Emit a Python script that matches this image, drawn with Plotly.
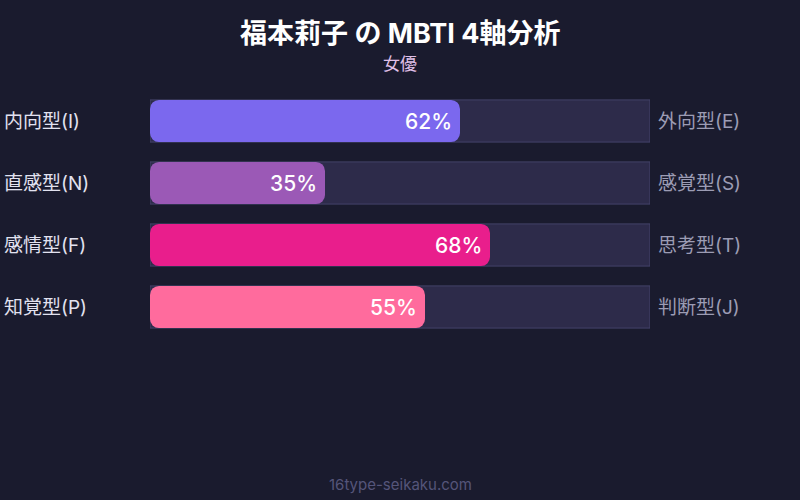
import plotly.graph_objects as go

# データ
left_labels = ["内向型(I)", "直感型(N)", "感情型(F)", "知覚型(P)"]
right_labels = ["外向型(E)", "感覚型(S)", "思考型(T)", "判断型(J)"]
values = [62, 35, 68, 55]
colors = ["#7b68ee", "#9b59b6", "#e91e8c", "#ff6b9d"]
track = [100, 100, 100, 100]
start = [0, 0, 0, 0]

font_jp = "Inter, Noto Sans CJK JP"
pos = list(range(len(values)))
bar_w = 0.68

fig = go.Figure()

# 背景のトラック
fig.add_trace(go.Bar(
    x=track, y=pos, orientation="h", width=bar_w, offset=-bar_w / 2,
    marker=dict(color="#2d2b4a", line=dict(color="#44426a", width=1)),
    hoverinfo="skip", showlegend=False,
))

# 値のバー (base を指定すると両端が丸くなる)
fig.add_trace(go.Bar(
    x=values, base=start, y=pos, orientation="h",
    width=bar_w, offset=-bar_w / 2,
    marker=dict(color=colors, line=dict(width=0), cornerradius=9),
    hoverinfo="skip", showlegend=False,
))

annotations = []
for i in pos:
    annotations.append(dict(
        x=values[i], y=i, xref="x", yref="y", text="{}%".format(values[i]),
        xanchor="right", yanchor="middle", xshift=-6, showarrow=False,
        font=dict(size=21, color="white", family=font_jp, weight=500),
    ))
    annotations.append(dict(
        x=-0.296, y=i, xref="paper", yref="y", text=left_labels[i],
        xanchor="left", yanchor="middle", showarrow=False,
        font=dict(size=19, color="#e2e2f0", family=font_jp),
    ))
    annotations.append(dict(
        x=1.012, y=i, xref="paper", yref="y", text=right_labels[i],
        xanchor="left", yanchor="middle", showarrow=False,
        font=dict(size=19, color="#9c9cb4", family=font_jp),
    ))

# タイトル類 (y はピクセル位置、下で paper 座標に変換)
plot_top, plot_bottom = 90, 338
header = [
    ("福本莉子 の MBTI 4軸分析", 34, 27, "white", 700),
    ("女優", 64, 17, "#e0c0e8", 400),
    ("16type-seikaku.com", 484, 15, "#55557a", 400),
]
for text, py, size, color, weight in header:
    annotations.append(dict(
        x=0.5, y=(plot_bottom - py) / (plot_bottom - plot_top), xref="paper", yref="paper",
        text=text, xanchor="center", yanchor="middle", showarrow=False,
        font=dict(size=size, color=color, family=font_jp, weight=weight),
    ))

fig.update_layout(
    width=800, height=500,
    margin=dict(l=150, r=150, t=plot_top, b=500 - plot_bottom),
    paper_bgcolor="#1a1b2e", plot_bgcolor="#1a1b2e",
    barmode="group",
    xaxis=dict(range=[0, 100], visible=False, fixedrange=True),
    yaxis=dict(range=[3.5, -0.5], visible=False, fixedrange=True),
    annotations=annotations,
    font=dict(family=font_jp),
)

fig.write_html("out.html", config={"displayModeBar": False},
               post_script="document.body.style.margin='0';")
